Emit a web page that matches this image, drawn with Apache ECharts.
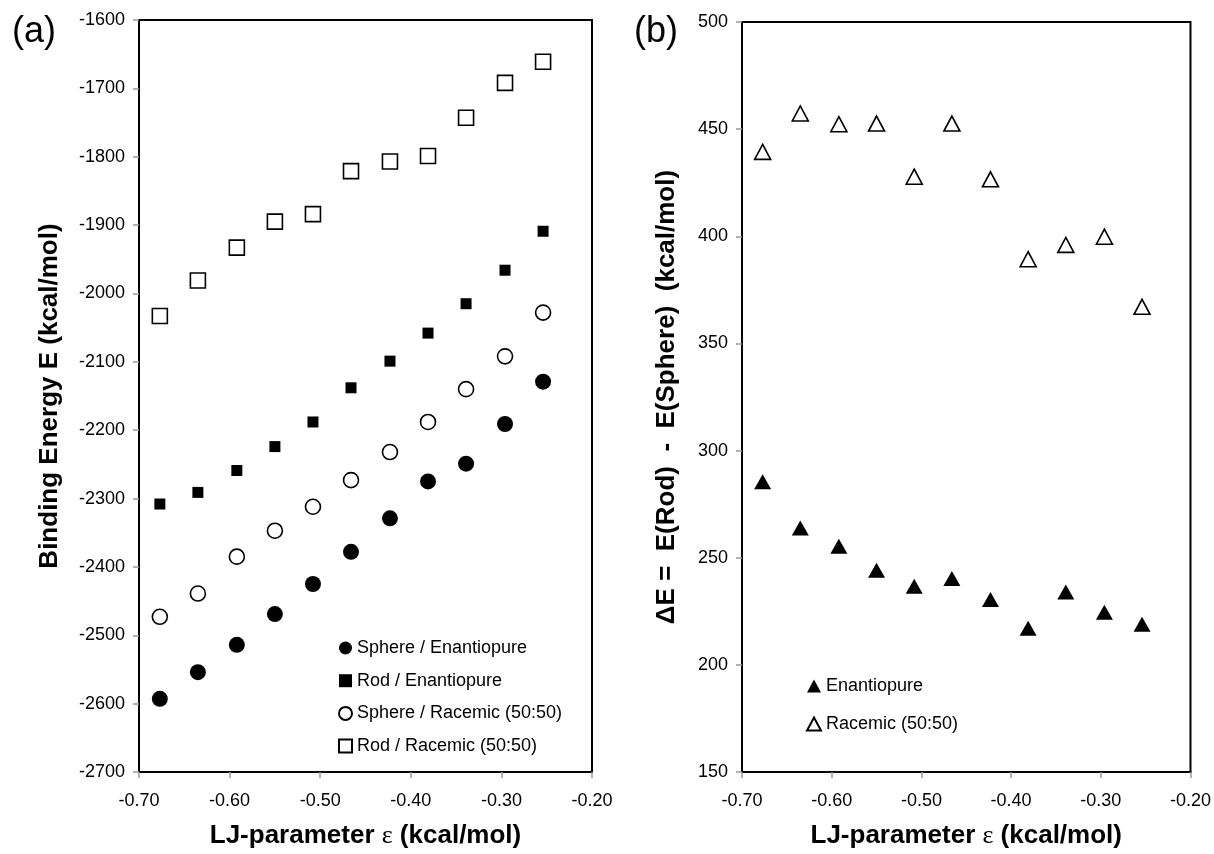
<!DOCTYPE html>
<html>
<head>
<meta charset="utf-8">
<script src="https://cdn.jsdelivr.net/npm/echarts@6/dist/echarts.min.js"></script>
<style>
  html, body { margin: 0; padding: 0; background: #fff; }
  #main { width: 1214px; height: 854px; }
</style>
</head>
<body>
<div id="main"></div>
<script>
// LJ-parameter epsilon (kcal/mol)
const epsilon = [-0.677, -0.635, -0.592, -0.550, -0.508, -0.466, -0.423, -0.381, -0.339, -0.296, -0.254]

// (a) binding energies
const sphereEnantio = [-2593, -2554, -2514, -2469, -2425, -2378, -2329, -2275, -2249, -2191, -2129]
const rodEnantio = [-2308, -2291, -2259, -2224, -2188, -2138, -2099, -2058, -2015, -1966, -1909]
const sphereRacemic = [-2473, -2439, -2385, -2347, -2312, -2273, -2232, -2188, -2140, -2092, -2028]
const rodRacemic = [-2033, -1981, -1933, -1895, -1884, -1821, -1807, -1799, -1743, -1692, -1661]

// (b) delta E = E(Rod) - E(Sphere)
const deltaEnantio = [285.4, 263.9, 255.4, 244.2, 236.7, 240.3, 230.5, 217.1, 234.0, 224.6, 219.0]
const deltaRacemic = [439.4, 457.3, 452.3, 452.6, 427.8, 452.6, 426.6, 389.3, 396.0, 399.8, 367.1]

const FONT = 'Liberation Sans'

const pairs = (ys) => epsilon.map((x, i) => [x, ys[i]])

const xAxisBase = (gridIndex) => ({
  type: 'value',
  gridIndex,
  min: -0.7,
  max: -0.2,
  interval: 0.1,
  splitLine: { show: false },
  axisLine: { lineStyle: { color: '#000', width: 2 } },
  axisTick: { show: true, length: 6, lineStyle: { color: '#999', width: 1.5 } },
  axisLabel: {
    margin: 20,
    fontSize: 18,
    fontFamily: FONT,
    color: '#000',
    formatter: (v) => v.toFixed(2)
  },
  name: 'LJ-parameter {e|ε} (kcal/mol)',
  nameLocation: 'middle',
  nameGap: 51,
  nameTextStyle: {
    fontSize: 26,
    fontWeight: 'bold',
    fontFamily: FONT,
    color: '#000',
    rich: {
      e: { fontSize: 26, fontWeight: 'normal', fontFamily: 'Liberation Serif', color: '#000' }
    }
  }
})

const yAxisBase = (gridIndex, min, max, interval, name, gap, margin) => ({
  type: 'value',
  gridIndex,
  min,
  max,
  interval,
  splitLine: { show: false },
  axisLine: { show: true, lineStyle: { color: '#000', width: 2 } },
  axisTick: { show: true, length: 6, lineStyle: { color: '#999', width: 1.5 } },
  axisLabel: { margin, fontSize: 18, fontFamily: FONT, color: '#000', formatter: (v) => String(v) },
  name,
  nameLocation: 'middle',
  nameGap: gap,
  nameTextStyle: { fontSize: 26, fontWeight: 'bold', fontFamily: FONT, color: '#000' }
})

// scatter defaults to 0.8 opacity, the figure uses solid marks
const filled = { color: '#000', borderColor: '#000', borderWidth: 0, opacity: 1 }
const hollow = { color: '#fff', borderColor: '#000', borderWidth: 1.6, opacity: 1 }

const option = {
  animation: false,
  backgroundColor: '#fff',
  grid: [
    { left: 139, top: 20, width: 453, height: 754, show: true, borderColor: '#000', borderWidth: 2, backgroundColor: 'transparent' },
    { left: 742, top: 22, width: 450, height: 752, show: true, borderColor: '#000', borderWidth: 2, backgroundColor: 'transparent' }
  ],
  xAxis: [xAxisBase(0), xAxisBase(1)],
  yAxis: [
    yAxisBase(0, -2700, -1600, 100, 'Binding Energy E (kcal/mol)', 76, 14),
    yAxisBase(1, 150, 500, 50, 'ΔE =  E(Rod)  -  E(Sphere)  (kcal/mol)', 62, 14)
  ],
  legend: [
    {
      data: ['Sphere / Enantiopure', 'Rod / Enantiopure', 'Sphere / Racemic (50:50)', 'Rod / Racemic (50:50)'],
      orient: 'vertical',
      left: 333,
      top: 633,
      itemWidth: 13,
      itemHeight: 13,
      itemGap: 12.7,
      textStyle: { fontSize: 18, fontFamily: FONT, color: '#000', lineHeight: 20 }
    },
    {
      data: ['Enantiopure', 'Racemic (50:50)'],
      orient: 'vertical',
      left: 801,
      top: 671,
      itemWidth: 14,
      itemHeight: 13,
      itemGap: 18,
      textStyle: { fontSize: 18, fontFamily: FONT, color: '#000', lineHeight: 20 }
    }
  ],
  graphic: [
    { type: 'text', left: 12, top: 14, style: { text: '(a)', fontSize: 36, fontFamily: FONT, fill: '#000' } },
    { type: 'text', left: 634, top: 14, style: { text: '(b)', fontSize: 36, fontFamily: FONT, fill: '#000' } }
  ],
  series: [
    {
      name: 'Sphere / Enantiopure', type: 'scatter', xAxisIndex: 0, yAxisIndex: 0,
      symbol: 'circle', symbolSize: 16, itemStyle: filled, data: pairs(sphereEnantio)
    },
    {
      name: 'Rod / Enantiopure', type: 'scatter', xAxisIndex: 0, yAxisIndex: 0,
      symbol: 'rect', symbolSize: 11, itemStyle: filled, data: pairs(rodEnantio)
    },
    {
      name: 'Sphere / Racemic (50:50)', type: 'scatter', xAxisIndex: 0, yAxisIndex: 0,
      symbol: 'circle', symbolSize: 15, itemStyle: hollow, data: pairs(sphereRacemic)
    },
    {
      name: 'Rod / Racemic (50:50)', type: 'scatter', xAxisIndex: 0, yAxisIndex: 0,
      symbol: 'rect', symbolSize: 15, itemStyle: hollow, data: pairs(rodRacemic)
    },
    {
      name: 'Enantiopure', type: 'scatter', xAxisIndex: 1, yAxisIndex: 1,
      symbol: 'triangle', symbolSize: [17, 15], itemStyle: filled, data: pairs(deltaEnantio)
    },
    {
      name: 'Racemic (50:50)', type: 'scatter', xAxisIndex: 1, yAxisIndex: 1,
      symbol: 'triangle', symbolSize: [16, 15], itemStyle: hollow, data: pairs(deltaRacemic)
    }
  ]
}

const myChart = echarts.init(document.getElementById('main'), null, { renderer: 'canvas' })
myChart.setOption(option)
</script>
</body>
</html>
